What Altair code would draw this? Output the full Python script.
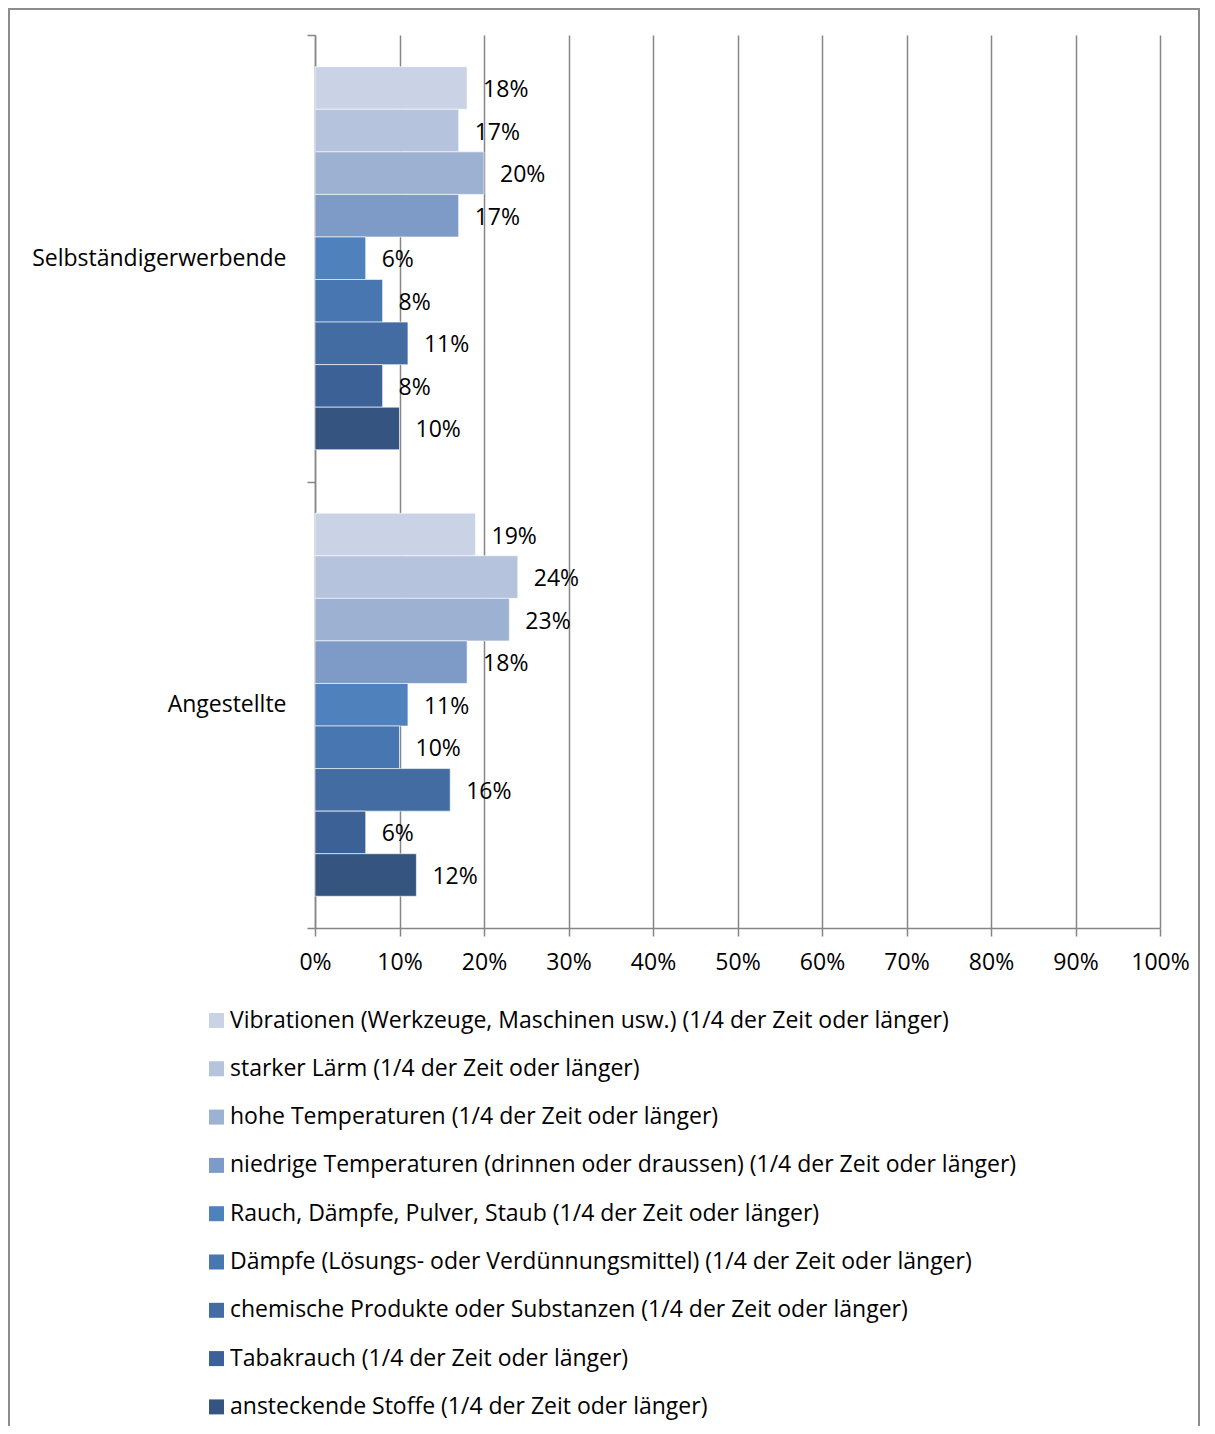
import altair as alt
import pandas as pd

groups = ["Selbständigerwerbende", "Angestellte"]
series = [
    "Vibrationen (Werkzeuge, Maschinen usw.) (1/4 der Zeit oder länger)",
    "starker Lärm (1/4 der Zeit oder länger)",
    "hohe Temperaturen (1/4 der Zeit oder länger)",
    "niedrige Temperaturen (drinnen oder draussen) (1/4 der Zeit oder länger)",
    "Rauch, Dämpfe, Pulver, Staub (1/4 der Zeit oder länger)",
    "Dämpfe (Lösungs- oder Verdünnungsmittel) (1/4 der Zeit oder länger)",
    "chemische Produkte oder Substanzen (1/4 der Zeit oder länger)",
    "Tabakrauch (1/4 der Zeit oder länger)",
    "ansteckende Stoffe (1/4 der Zeit oder länger)",
]
selbst_values = [18, 17, 20, 17, 6, 8, 11, 8, 10]
angest_values = [19, 24, 23, 18, 11, 10, 16, 6, 12]
colors = ["#CAD3E5", "#B5C3DD", "#9DB1D3", "#7E9BC8", "#4F81BD",
          "#4776B0", "#426CA2", "#3C6196", "#355580"]
x_ticks = [0, 10, 20, 30, 40, 50, 60, 70, 80, 90, 100]

rows = []
for g, vals in zip(groups, [selbst_values, angest_values]):
    for s, v in zip(series, vals):
        rows.append({"group": g, "series": s, "value": v, "label": f"{v}%"})
df = pd.DataFrame(rows)

FONT = "Open Sans"
FS = 23
GRID = "#868686"

base = alt.Chart(df).encode(
    y=alt.Y("group:N", sort=groups,
            scale=alt.Scale(paddingInner=0, paddingOuter=0),
            axis=alt.Axis(title=None, tickBand="extent", tickSize=8,
                          tickColor=GRID, domainColor=GRID, domainWidth=1.5,
                          tickWidth=1.5, labelFontSize=FS, labelFont=FONT,
                          labelColor="#000000", labelPadding=21,
                          labelLimit=400)),
    yOffset=alt.YOffset("series:N", sort=series,
                        scale=alt.Scale(paddingInner=0, paddingOuter=0.746)),
)

bars = base.mark_bar(stroke="white", strokeWidth=0.6).encode(
    x=alt.X("value:Q", scale=alt.Scale(domain=[0, 100], nice=False),
            axis=alt.Axis(title=None, values=x_ticks,
                          labelExpr="datum.value + '%'", labelFlush=False,
                          grid=True, gridColor=GRID, gridWidth=1.5,
                          tickSize=8, tickColor=GRID, tickWidth=1.5,
                          domainColor=GRID, domainWidth=1.5,
                          labelFontSize=FS, labelFont=FONT,
                          labelColor="#000000", labelPadding=15)),
    color=alt.Color("series:N", sort=series,
                    scale=alt.Scale(domain=series, range=colors),
                    legend=alt.Legend(title=None, orient="none",
                                      legendX=-110, legendY=974,
                                      direction="vertical",
                                      symbolType="square", symbolSize=225,
                                      symbolStrokeWidth=0,
                                      labelFontSize=FS, labelFont=FONT,
                                      labelColor="#000000",
                                      labelOffset=2, rowPadding=24.3,
                                      labelLimit=1000, padding=0)),
)

texts = base.mark_text(align="left", baseline="middle", dx=16, dy=2,
                       fontSize=FS, font=FONT, color="#000000").encode(
    x=alt.X("value:Q"),
    text="label:N",
)

border = alt.Chart(alt.Data(values=[{"a": 1}])).mark_rect(
    fill=None, stroke="#8C8C8C", strokeWidth=2
).encode(
    x=alt.value(-306), x2=alt.value(884),
    y=alt.value(-26), y2=alt.value(1440),
)

chart = alt.layer(border, bars, texts).properties(
    width=845, height=893,
    autosize=alt.AutoSizeParams(type="none"),
    padding={"left": 307, "top": 27, "right": 43, "bottom": 498},
).configure_view(stroke=None)

chart.save("out.html", embed_options={"renderer": "svg", "actions": False})
